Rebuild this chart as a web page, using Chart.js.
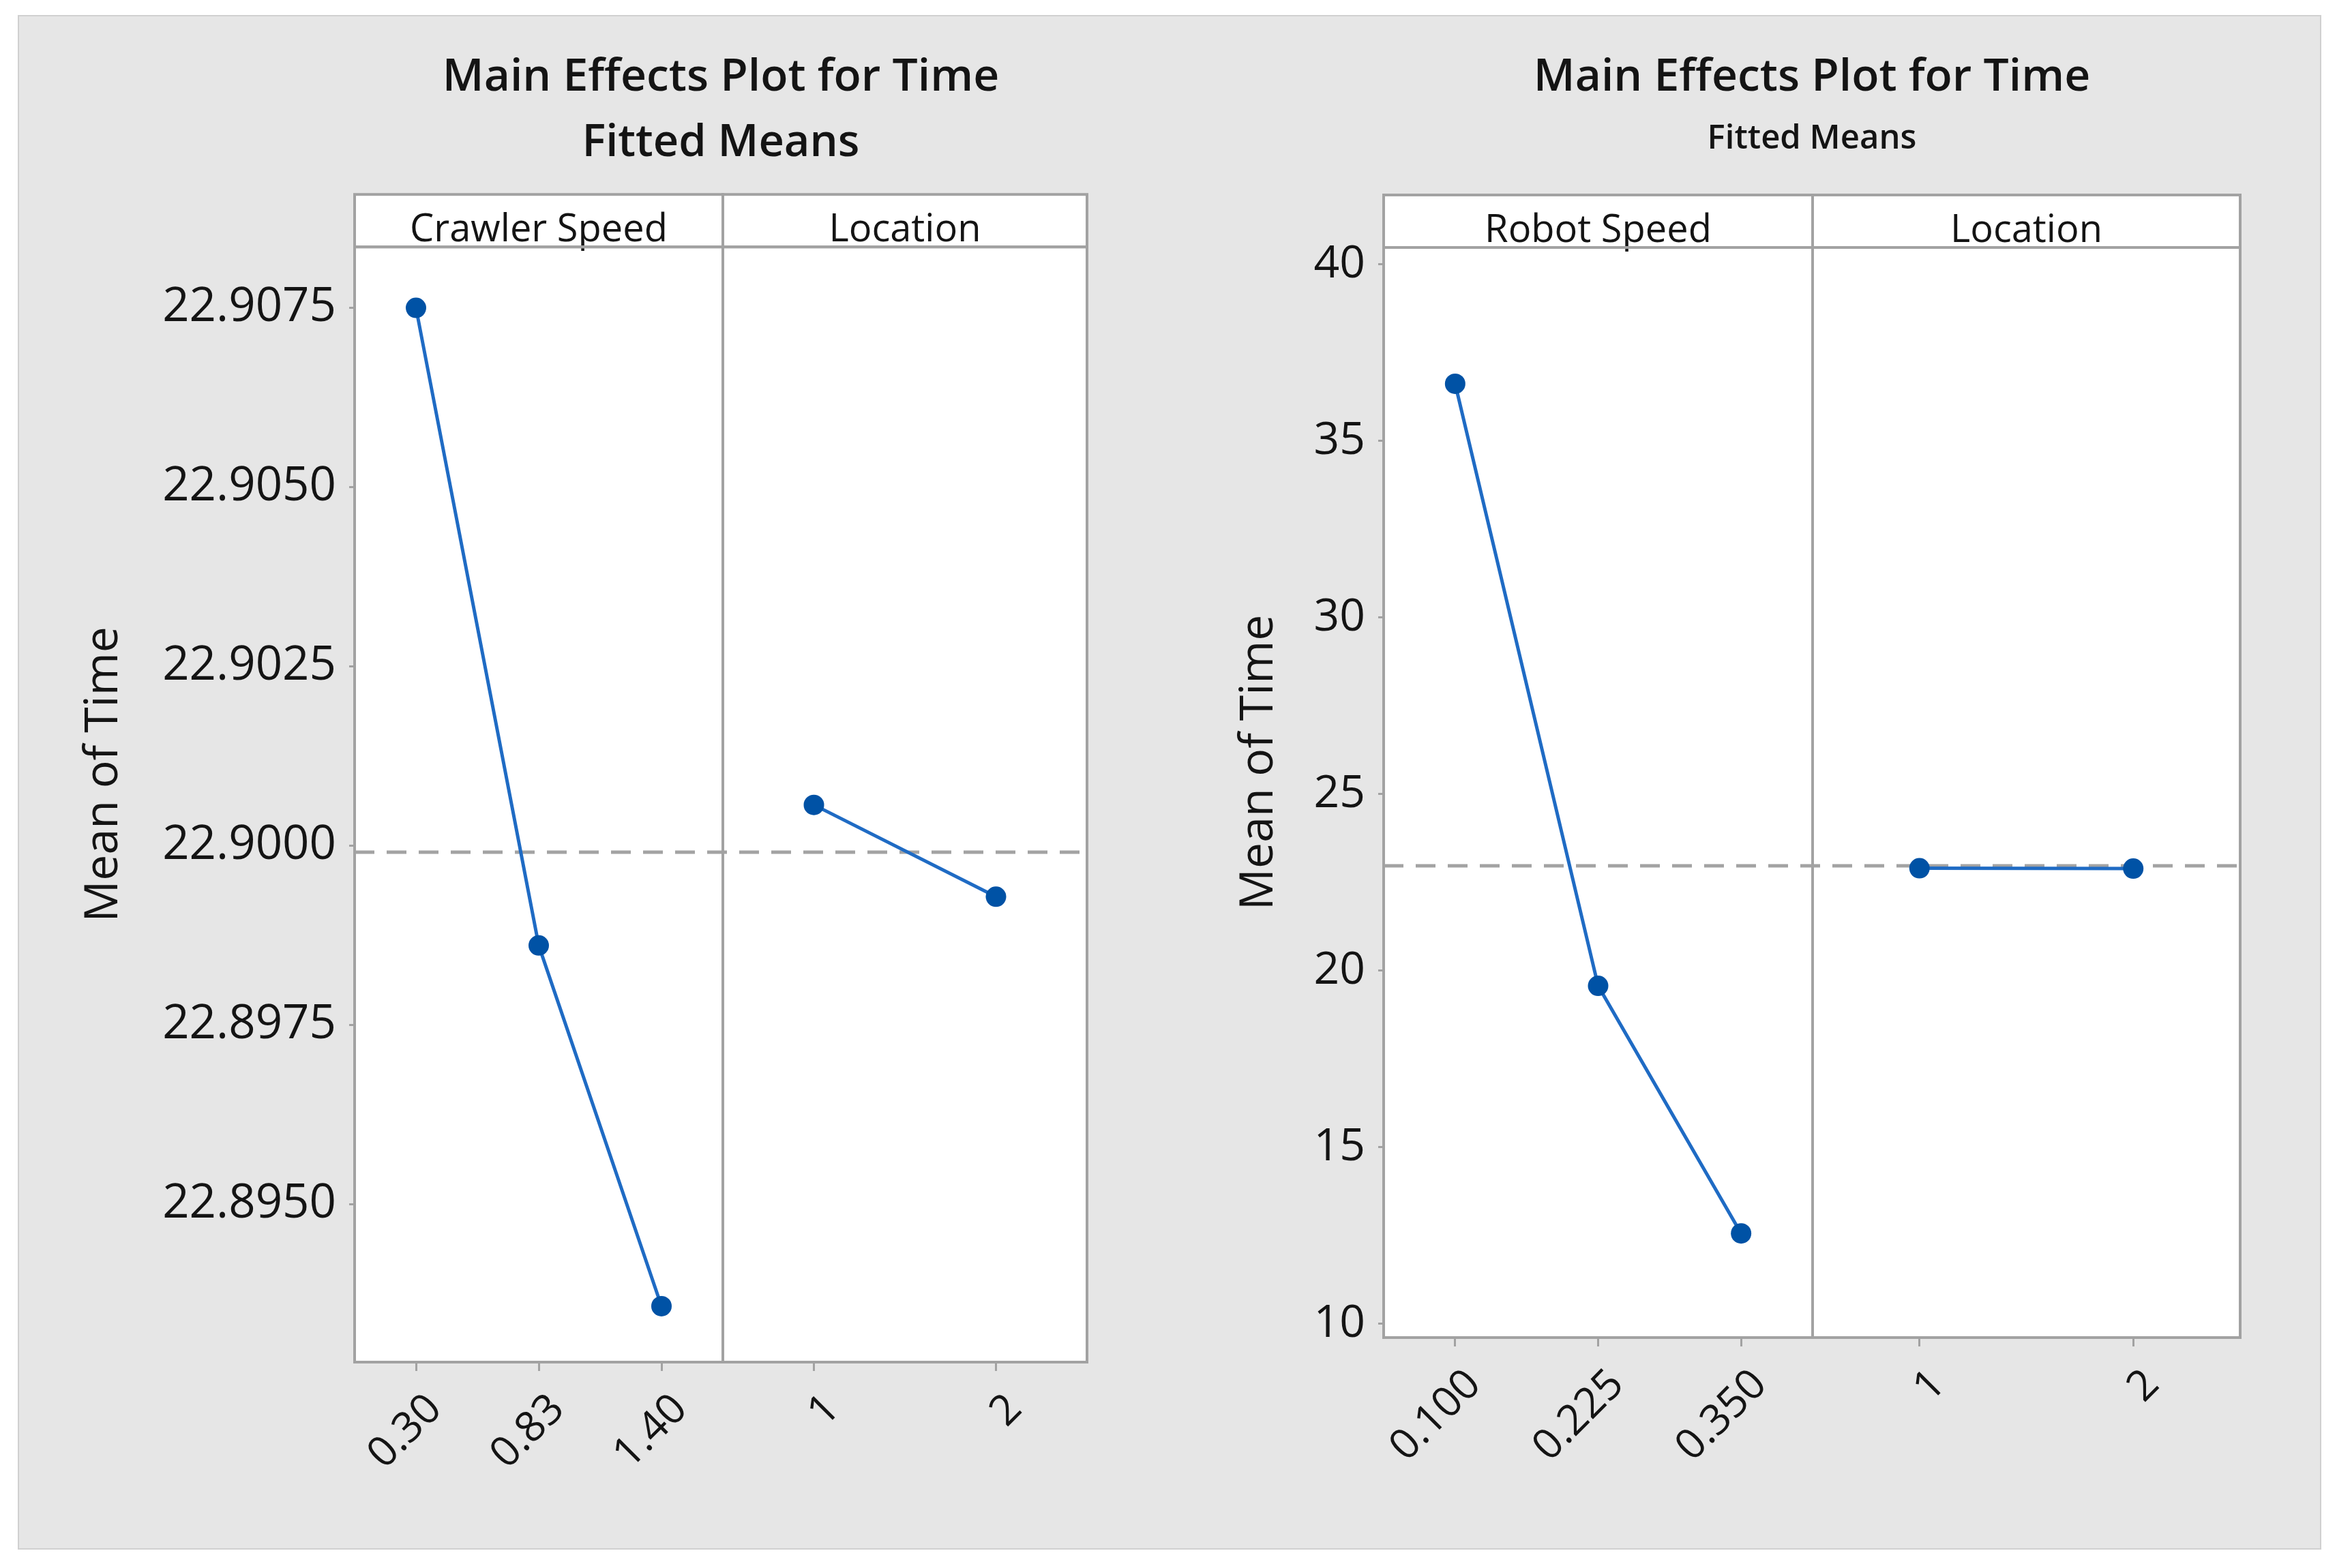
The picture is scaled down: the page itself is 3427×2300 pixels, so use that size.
<!DOCTYPE html>
<html><head><meta charset="utf-8">
<script src="https://cdn.jsdelivr.net/npm/chart.js@4.4.1/dist/chart.umd.min.js"></script>
<style>
html,body{margin:0;padding:0;width:3427px;height:2300px;overflow:hidden;background:#fff;}
#frame{position:absolute;left:26px;top:22px;width:3378px;height:2251px;background:#e6e6e6;border:2px solid #d0d0d0;box-sizing:border-box;}
canvas{position:absolute;top:22px;}
#cl{left:26px;}
#cr{left:1714px;}
</style></head><body>
<div id="frame"></div>
<canvas id="cl" width="1980" height="2251"></canvas>
<canvas id="cr" width="1798" height="2251"></canvas>
<script>
// ---- data ----
const crawlerLevels = ['0.30', '0.83', '1.40'];
const crawlerMeans = [22.9075, 22.89861, 22.89358];
const locationLevels = ['1', '2'];
const locationMeansLeft = [22.90057, 22.89929];
const grandMeanLeft = 22.89991;
const yTicksLeft = [22.8950, 22.8975, 22.9000, 22.9025, 22.9050, 22.9075];

const robotLevels = ['0.100', '0.225', '0.350'];
const robotMeans = [36.62, 19.57, 12.56];
const locationMeansRight = [22.90, 22.89];
const grandMeanRight = 22.97;
const yTicksRight = [10, 15, 20, 25, 30, 35, 40];

const titleText = 'Main Effects Plot for Time';
const subtitleText = 'Fitted Means';
const yTitleText = '     Mean of Time';

// ---- style ----
const FONT = "'Open Sans', 'Noto Sans', sans-serif";
const INK = '#141414';
const FRAME = '#a2a2a2';
const LINE_BLUE = '#1f6bc4';
const DOT_BLUE = '#0052a5';

const panelPlugin = {
  id: 'panels',
  beforeDraw(chart, args, o) {
    const {ctx, chartArea: a} = chart;
    ctx.save();
    ctx.fillStyle = '#ffffff';
    ctx.fillRect(a.left, a.top, a.right - a.left, a.bottom - a.top);
    o.strips.forEach(id => { const s = chart.scales[id]; ctx.fillRect(s.left, s.top, s.width, s.height); });
    ctx.restore();
  },
  beforeDatasetsDraw(chart, args, o) {
    const {ctx, chartArea: a} = chart;
    const y = chart.scales.y.getPixelForValue(o.mean);
    ctx.save();
    ctx.strokeStyle = '#a3a3a3';
    ctx.lineWidth = 5;
    ctx.setLineDash([29, 18]);
    ctx.beginPath();
    ctx.moveTo(a.left, y);
    ctx.lineTo(a.right, y);
    ctx.stroke();
    ctx.restore();
  },
  afterDraw(chart, args, o) {
    const {ctx, chartArea: a} = chart;
    ctx.save();
    ctx.strokeStyle = FRAME;
    ctx.lineWidth = 4;
    o.strips.forEach(id => { const s = chart.scales[id]; ctx.strokeRect(s.left, s.top, s.width, s.height); });
    o.panels.forEach(id => { const s = chart.scales[id]; ctx.strokeRect(s.left, a.top, s.width, a.bottom - a.top); });
    ctx.restore();
  }
};

function lineStyle() {
  return {
    borderColor: LINE_BLUE, borderWidth: 5, tension: 0, fill: false,
    pointRadius: 15, pointBackgroundColor: DOT_BLUE, pointBorderWidth: 0,
    pointHoverRadius: 15
  };
}

function buildChart(el, p) {
  const stripScale = (labels, text, w) => ({
    type: 'category', position: 'top', stack: 'top', stackWeight: w, labels: labels,
    ticks: {display: false}, grid: {display: false}, border: {display: false},
    title: {display: true, text: text, color: INK, font: {family: FONT, size: 56}, padding: {top: 19, bottom: 0}},
    afterFit(s) { s.height = 77; }
  });
  const bottomScale = (labels, w) => ({
    type: 'category', position: 'bottom', stack: 'bot', stackWeight: w, labels: labels, offset: true,
    ticks: {autoSkip: false, minRotation: 45, maxRotation: 45, padding: 20, labelOffset: 28, color: INK, font: {family: FONT, size: 62}},
    grid: {display: true, drawOnChartArea: false, drawTicks: true, tickLength: 13, tickColor: FRAME, tickWidth: 3},
    border: {display: false},
    afterFit(s) { s.height = p.bottomH; }
  });
  return new Chart(el, {
    type: 'line',
    data: {
      datasets: [
        Object.assign({data: p.valsA, xAxisID: 'xa', yAxisID: 'y'}, lineStyle()),
        Object.assign({data: p.valsB, xAxisID: 'xb', yAxisID: 'y'}, lineStyle())
      ]
    },
    options: {
      responsive: false, devicePixelRatio: 1, animation: false,
      layout: {padding: {left: p.padLeft, right: 0, top: 20, bottom: 0}},
      plugins: {
        legend: {display: false}, tooltip: {enabled: false},
        title: {display: true, text: titleText, color: INK, font: {family: FONT, size: 66, weight: '600'}, padding: {top: 33, bottom: 0}},
        subtitle: {display: true, text: subtitleText, color: INK, font: {family: FONT, size: p.subSize, weight: '600'}, padding: {top: p.subPadTop, bottom: p.subPadBottom}},
        panels: {mean: p.mean, strips: ['ta', 'tb'], panels: ['xa', 'xb']}
      },
      scales: {
        // top strips are laid out in reverse order, so the second one is listed first
        tb: stripScale(p.labelsB, p.stripB, p.wB),
        ta: stripScale(p.labelsA, p.stripA, p.wA),
        xa: bottomScale(p.labelsA, p.wA),
        xb: bottomScale(p.labelsB, p.wB),
        y: {
          type: 'linear', position: 'left', min: p.yMin, max: p.yMax,
          afterBuildTicks(s) { s.ticks = p.yTicks.map(v => ({value: v})); },
          ticks: {callback: p.fmt, color: INK, font: {family: FONT, size: p.yTickSize}, padding: 19},
          grid: {display: true, drawOnChartArea: false, drawTicks: true, tickLength: 8, tickColor: FRAME, tickWidth: 3},
          border: {display: false},
          title: {display: true, text: yTitleText, color: INK, font: {family: FONT, size: 68}, padding: {top: 4, bottom: 4}},
          afterFit(s) { s.width = p.yw; }
        },
        yR: {
          type: 'linear', position: 'right', display: true,
          ticks: {display: false}, grid: {display: false}, border: {display: false},
          afterFit(s) { s.width = p.yw; }
        }
      }
    },
    plugins: [panelPlugin]
  });
}

buildChart(document.getElementById('cl'), {
  valsA: crawlerMeans, valsB: locationMeansLeft,
  labelsA: crawlerLevels, labelsB: locationLevels,
  stripA: 'Crawler Speed', stripB: 'Location', wA: 540, wB: 534,
  mean: grandMeanLeft, yTicks: yTicksLeft, yMin: 22.8928, yMax: 22.90835,
  fmt: v => Number(v).toFixed(4), yTickSize: 69,
  padLeft: 82, yw: 412, bottomH: 275,
  subSize: 65, subPadTop: 17, subPadBottom: 36
});

buildChart(document.getElementById('cr'), {
  valsA: robotMeans, valsB: locationMeansRight,
  labelsA: robotLevels, labelsB: locationLevels,
  stripA: 'Robot Speed', stripB: 'Location', wA: 629, wB: 627,
  mean: grandMeanRight, yTicks: yTicksRight, yMin: 9.61, yMax: 40.48,
  fmt: v => String(v), yTickSize: 66,
  padLeft: 88, yw: 227, bottomH: 311,
  subSize: 49, subPadTop: 20, subPadBottom: 53
});
</script>
</body></html>
